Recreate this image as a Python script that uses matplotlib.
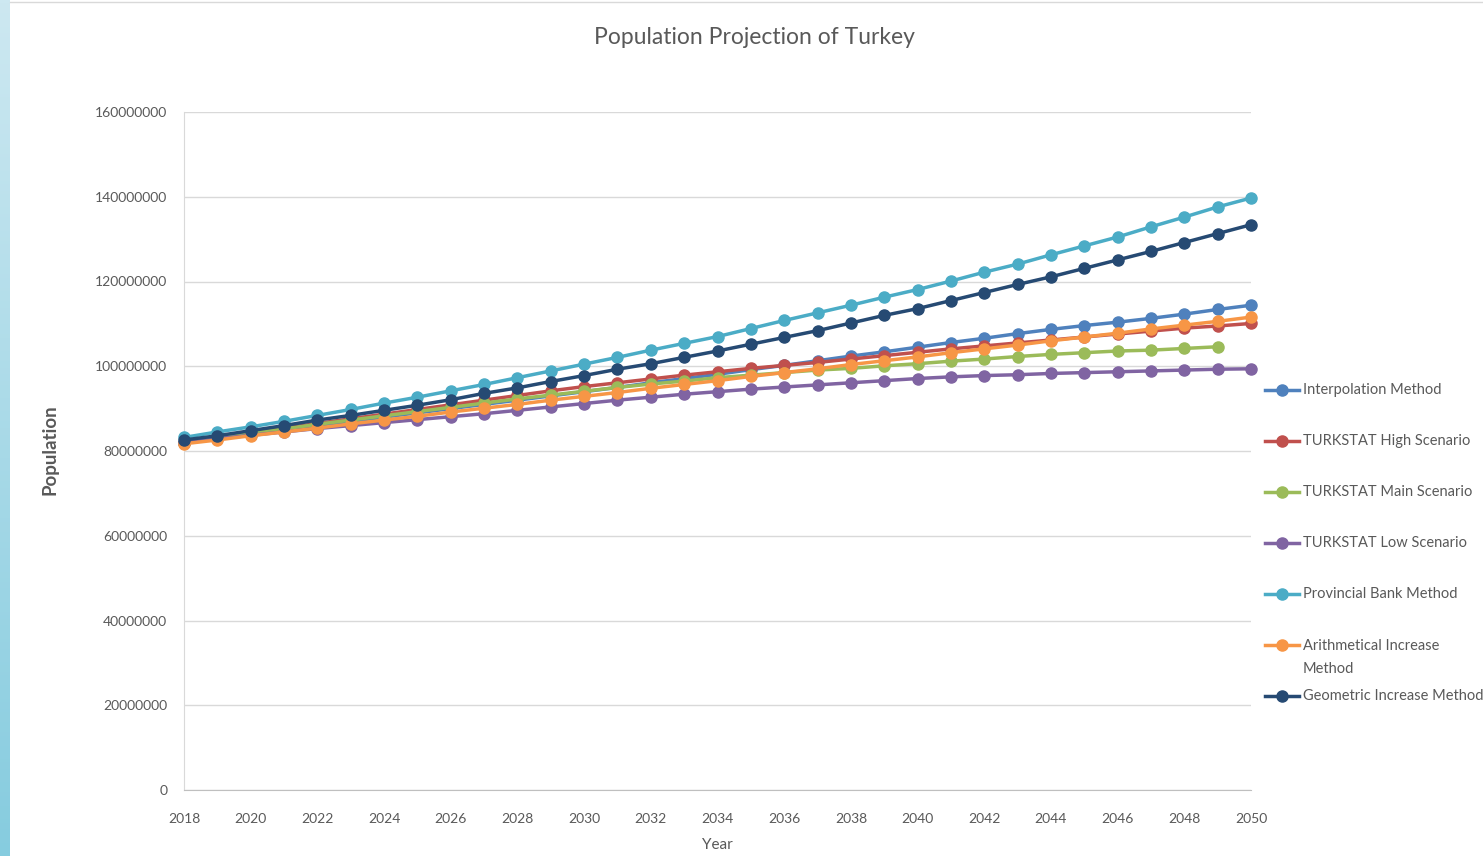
import matplotlib
matplotlib.use("Agg")
import matplotlib.pyplot as plt
import numpy as np
from matplotlib.lines import Line2D
from matplotlib.ticker import FuncFormatter, MultipleLocator

plt.rcParams['font.family'] = ['Lato', 'DejaVu Sans']

years = list(range(2018, 2051))

# projections in millions of people
interpolation = [82.0, 83.0, 84.0, 85.0, 86.0, 87.0, 88.0, 89.0, 90.0, 91.0, 92.0,
                 93.0, 94.0, 95.0, 96.1, 97.1, 98.1, 99.2, 100.2, 101.3, 102.4, 103.4,
                 104.5, 105.6, 106.6, 107.7, 108.7, 109.6, 110.4, 111.3, 112.3, 113.4, 114.4]
turkstat_high = [82.0, 83.1, 84.3, 85.4, 86.5, 87.6, 88.7, 89.8, 90.9, 92.0, 93.1,
                 94.2, 95.2, 96.1, 97.0, 97.9, 98.7, 99.5, 100.2, 100.9, 101.7, 102.5,
                 103.3, 104.1, 104.8, 105.5, 106.2, 106.9, 107.6, 108.3, 109.0, 109.5, 110.1]
turkstat_main = [82.0, 83.1, 84.2, 85.2, 86.3, 87.3, 88.3, 89.3, 90.3, 91.3, 92.3,
                 93.2, 94.1, 95.0, 95.8, 96.5, 97.3, 97.9, 98.5, 99.1, 99.5, 100.1,
                 100.6, 101.2, 101.7, 102.3, 102.8, 103.2, 103.6, 103.8, 104.2, 104.6]
turkstat_low = [82.0, 82.9, 83.7, 84.5, 85.3, 86.0, 86.7, 87.4, 88.1, 88.8, 89.6,
                90.4, 91.2, 92.0, 92.7, 93.4, 94.0, 94.6, 95.1, 95.6, 96.1, 96.6,
                97.1, 97.5, 97.8, 98.0, 98.3, 98.5, 98.7, 98.9, 99.1, 99.3, 99.4]
provincial_bank = [83.2, 84.5, 85.7, 87.0, 88.4, 89.8, 91.3, 92.7, 94.2, 95.7, 97.3,
                   98.9, 100.5, 102.1, 103.8, 105.4, 107.0, 108.9, 110.8, 112.6, 114.4, 116.3,
                   118.1, 120.1, 122.2, 124.1, 126.3, 128.4, 130.5, 132.9, 135.2, 137.6, 139.7]
arithmetical = [81.7, 82.6, 83.6, 84.5, 85.4, 86.4, 87.3, 88.2, 89.2, 90.1, 91.0,
                92.0, 92.9, 93.8, 94.8, 95.7, 96.6, 97.6, 98.5, 99.4, 100.4, 101.3,
                102.2, 103.2, 104.1, 105.0, 106.0, 106.9, 107.8, 108.8, 109.7, 110.6, 111.6]
geometric = [82.6, 83.6, 84.8, 86.0, 87.3, 88.4, 89.6, 90.8, 92.1, 93.6, 94.9,
             96.4, 97.8, 99.3, 100.6, 102.1, 103.6, 105.2, 106.8, 108.4, 110.2, 112.0,
             113.6, 115.5, 117.4, 119.3, 121.1, 123.1, 125.1, 127.1, 129.2, 131.3, 133.4]

labels = ["Interpolation Method", "TURKSTAT High Scenario", "TURKSTAT Main Scenario",
          "TURKSTAT Low Scenario", "Provincial Bank Method",
          "Arithmetical Increase\nMethod", "Geometric Increase Method"]
series = [interpolation, turkstat_high, turkstat_main, turkstat_low,
          provincial_bank, arithmetical, geometric]
colors = ["#4F81BD", "#C0504D", "#9BBB59", "#8064A2", "#4BACC6", "#F79646", "#264A73"]

W, H = 1483, 856
fig = plt.figure(figsize=(W / 100, H / 100), dpi=100)
fig.patch.set_facecolor("white")

# blue strip down the left edge
strip = fig.add_axes([0, 0, 10 / W, 1])
grad = np.linspace(0, 1, 256).reshape(-1, 1)
strip.imshow(grad, aspect="auto", cmap=matplotlib.colors.LinearSegmentedColormap.from_list(
    "strip", ["#CDE8F1", "#86CCDF"]), extent=[0, 1, 0, 1], origin="upper")
strip.set_axis_off()
fig.add_artist(Line2D([10 / W, 1], [1 - 1.5 / H, 1 - 1.5 / H], color="#D9D9D9", lw=1))

ax = fig.add_axes([184 / W, 1 - 790 / H, (1251 - 184) / W, (790 - 112) / H])
for i, (vals, c) in enumerate(zip(series, colors)):
    ax.plot(years[:len(vals)], np.array(vals) * 1e6, color=c, lw=2.5,
            marker="o", markersize=8, zorder=3 + i, clip_on=False)

ax.set_xlim(2018, 2050)
ax.set_ylim(0, 160e6)
ax.xaxis.set_major_locator(MultipleLocator(2))
ax.yaxis.set_major_locator(MultipleLocator(20e6))
ax.yaxis.set_major_formatter(FuncFormatter(lambda v, p: f"{v:.0f}"))
ax.grid(axis="y", color="#D9D9D9", lw=1)
ax.set_axisbelow(True)
for s in ["top", "right"]:
    ax.spines[s].set_visible(False)
ax.spines["left"].set_color("#D9D9D9")
ax.spines["bottom"].set_color("#BFBFBF")
ax.tick_params(length=0, labelsize=10, labelcolor="#595959")
ax.tick_params(axis="y", pad=12)
ax.tick_params(axis="x", pad=16.5)

fig.text(754 / W, 1 - 38 / H, "Population Projection of Turkey", ha="center", va="center",
         fontsize=16.5, color="#595959")
fig.text(50 / W, 1 - 450 / H, "Population", rotation=90, ha="center", va="center",
         fontsize=13.5, fontweight="bold", color="#595959")
fig.text(717 / W, 1 - 845 / H, "Year", ha="center", va="center",
         fontsize=11, color="#595959")

# legend drawn by hand on the right side
leg_y = [390, 441, 492, 543, 594, 645, 696]
for lab, c, y in zip(labels, colors, leg_y):
    yf = 1 - y / H
    fig.add_artist(Line2D([1265 / W, 1299 / W], [yf, yf], color=c, lw=2.5))
    fig.add_artist(Line2D([1282 / W], [yf], color=c, marker="o", markersize=8))
    n_lines = lab.count("\n") + 1
    ty = yf - (n_lines - 1) * 12.5 / H
    fig.text(1303 / W, ty, lab, ha="left", va="center", fontsize=10.5,
             color="#595959", linespacing=1.85)

fig.savefig("out.png", dpi=100)
